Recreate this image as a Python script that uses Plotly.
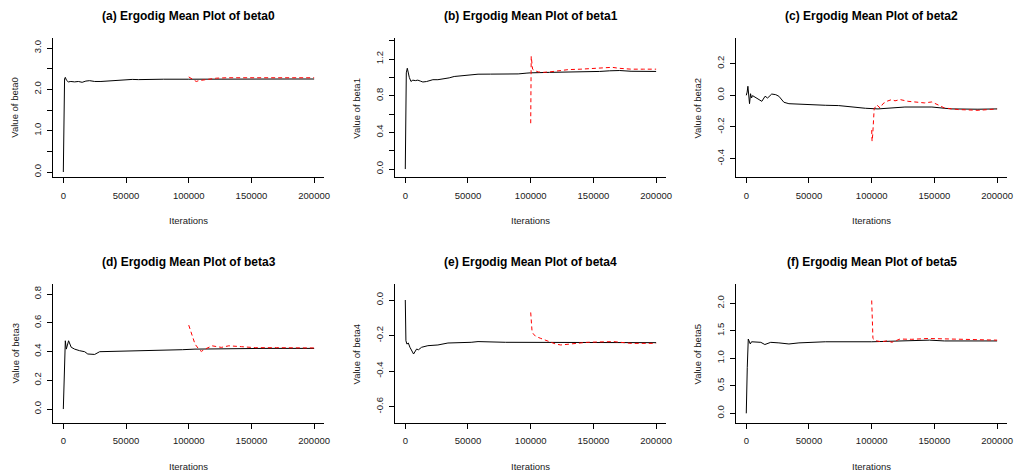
import plotly.graph_objects as go

# ---------------- data ----------------
titles = ["(a) Ergodig Mean Plot of beta0", "(b) Ergodig Mean Plot of beta1",
          "(c) Ergodig Mean Plot of beta2", "(d) Ergodig Mean Plot of beta3",
          "(e) Ergodig Mean Plot of beta4", "(f) Ergodig Mean Plot of beta5"]
ylabels = ["Value of beta0", "Value of beta1", "Value of beta2",
           "Value of beta3", "Value of beta4", "Value of beta5"]
x_label = "Iterations"
x_ticks = [0, 50000, 100000, 150000, 200000]
x_ticktext = ["0", "50000", "100000", "150000", "200000"]

# beta0
it_a = [0, 400, 700, 1000, 1600, 2500, 4000, 6000, 9000, 12000, 15000, 18000, 21000, 25000,
        30000, 35000, 40000, 45000, 50000, 55000, 60000, 70000, 80000, 100000, 120000,
        150000, 180000, 200000]
va = [0.0, 1.06, 1.08, 2.25, 2.29, 2.22, 2.18, 2.19, 2.18, 2.19, 2.17, 2.20, 2.21, 2.19,
      2.19, 2.20, 2.21, 2.23, 2.23, 2.24, 2.235, 2.245, 2.245, 2.245, 2.25, 2.25, 2.25, 2.25]
ir_a = [100000, 102000, 104000, 106000, 108000, 110000, 114000, 118000, 122000, 130000,
        140000, 150000, 160000, 170000, 180000, 190000, 200000]
vr_a = [2.30, 2.26, 2.21, 2.19, 2.21, 2.22, 2.23, 2.25, 2.27, 2.28, 2.28, 2.28, 2.285,
        2.28, 2.28, 2.28, 2.28]

# beta1
it_b = [0, 300, 800, 1600, 2400, 3200, 4500, 6000, 8000, 10000, 12000, 14000, 17000, 22000,
        26000, 31000, 35000, 39000, 45000, 50000, 58000, 68000, 80000, 90000, 97000, 100000,
        115000, 132000, 145000, 155000, 163000, 171000, 180000, 190000, 200000]
vb = [0.0, 0.50, 1.05, 1.10, 1.04, 1.00, 0.956, 0.97, 0.965, 0.97, 0.96, 0.95, 0.955, 0.975,
      0.975, 0.985, 0.995, 1.01, 1.02, 1.025, 1.035, 1.036, 1.036, 1.038, 1.047, 1.05,
      1.055, 1.058, 1.062, 1.065, 1.072, 1.075, 1.067, 1.066, 1.065]
ir_b = [100000, 100400, 101500, 103000, 106000, 110000, 115000, 120000, 130000, 140000,
        150000, 160000, 165000, 170000, 180000, 190000, 200000]
vr_b = [0.50, 1.23, 1.09, 1.075, 1.06, 1.055, 1.06, 1.07, 1.085, 1.09, 1.10, 1.105, 1.11,
        1.10, 1.09, 1.09, 1.09]

# beta2
it_c = [0, 700, 1300, 2000, 2600, 3400, 4200, 5000, 6500, 8000, 10000, 12400, 15000, 17000,
        20300, 23500, 26000, 30000, 34000, 42000, 52500, 63000, 73700, 84000, 95000, 105000,
        113000, 126500, 148000, 155600, 163500, 184700, 200000]
vc = [0.0, 0.02, 0.057, -0.02, -0.053, 0.01, -0.017, -0.002, -0.01, -0.017, -0.025, -0.038,
      -0.006, -0.017, 0.008, 0.004, -0.006, -0.044, -0.053, -0.057, -0.059, -0.063, -0.065,
      -0.074, -0.082, -0.086, -0.08, -0.074, -0.074, -0.08, -0.086, -0.088, -0.086]
ir_c = [100000, 100300, 100800, 101500, 102000, 104000, 106700, 109000, 112000, 116000,
        118600, 122600, 129000, 137000, 142000, 148000, 153000, 158000, 169000, 185000, 200000]
vr_c = [-0.22, -0.29, -0.25, -0.12, -0.085, -0.06, -0.08, -0.053, -0.038, -0.027, -0.035,
        -0.027, -0.038, -0.044, -0.048, -0.042, -0.059, -0.08, -0.09, -0.095, -0.086]

# beta3
it_d = [0, 500, 1600, 2400, 3200, 4200, 6300, 9000, 13000, 17000, 19500, 25000, 29000,
        42000, 52500, 58000, 68000, 79000, 95000, 105000, 132000, 160000, 200000]
vd = [0.0, 0.158, 0.475, 0.417, 0.45, 0.475, 0.43, 0.417, 0.406, 0.399, 0.383, 0.38, 0.399,
      0.401, 0.403, 0.408, 0.408, 0.41, 0.413, 0.417, 0.422, 0.422, 0.422]
ir_d = [100000, 103000, 105000, 108000, 110000, 113000, 118600, 126000, 132000, 142000,
        153000, 170000, 185000, 200000]
vr_d = [0.584, 0.51, 0.452, 0.417, 0.401, 0.417, 0.44, 0.429, 0.44, 0.434, 0.427, 0.427,
        0.425, 0.425]

# beta4
it_e = [0, 150, 500, 1300, 2400, 3700, 5000, 6600, 9000, 10500, 13000, 18000, 26000, 34000,
        52500, 58000, 80000, 100000, 150000, 200000]
ve = [0.0, -0.126, -0.229, -0.248, -0.242, -0.266, -0.285, -0.304, -0.276, -0.28, -0.266,
      -0.257, -0.253, -0.242, -0.238, -0.234, -0.238, -0.238, -0.24, -0.24]
ir_e = [100000, 101000, 102000, 104000, 108000, 112000, 116000, 120000, 124000, 132000,
        145000, 155000, 166000, 180000, 190000, 200000]
vr_e = [-0.07, -0.17, -0.19, -0.205, -0.216, -0.228, -0.238, -0.248, -0.253, -0.248, -0.238,
        -0.236, -0.234, -0.244, -0.244, -0.244]

# beta5
it_f = [0, 150, 800, 1600, 3200, 4200, 7700, 11600, 14800, 19500, 26000, 34000, 42000, 52500,
        63000, 100000, 132000, 146000, 158000, 200000]
vf = [0.0, 0.29, 0.836, 1.35, 1.26, 1.30, 1.29, 1.29, 1.25, 1.29, 1.28, 1.26, 1.28, 1.29,
      1.30, 1.30, 1.315, 1.33, 1.315, 1.315]
ir_f = [100000, 101000, 103000, 108000, 113000, 116000, 122600, 132000, 145000, 158000,
        174000, 190000, 200000]
vr_f = [2.05, 1.36, 1.32, 1.30, 1.32, 1.29, 1.35, 1.345, 1.36, 1.35, 1.34, 1.335, 1.33]

y_ranges = [[-0.128, 3.242], [-0.09, 1.43], [-0.518, 0.362],
            [-0.097, 0.870], [-0.692, 0.09], [-0.176, 2.35]]
y_tickvals = [[0, 0.5, 1.0, 1.5, 2.0, 2.5, 3.0],
              [0, 0.2, 0.4, 0.6, 0.8, 1.0, 1.2, 1.4],
              [-0.4, -0.2, 0.0, 0.2],
              [0.0, 0.2, 0.4, 0.6, 0.8],
              [-0.6, -0.4, -0.2, 0.0],
              [0.0, 0.5, 1.0, 1.5, 2.0]]
y_ticktext = [["0.0", "", "1.0", "", "2.0", "", "3.0"],
              ["0.0", "", "0.4", "", "0.8", "", "1.2", ""],
              ["-0.4", "-0.2", "0.0", "0.2"],
              ["0.0", "0.2", "0.4", "0.6", "0.8"],
              ["-0.6", "-0.4", "-0.2", "0.0"],
              ["0.0", "0.5", "1.0", "1.5", "2.0"]]

black_x = [it_a, it_b, it_c, it_d, it_e, it_f]
black_y = [va, vb, vc, vd, ve, vf]
red_x = [ir_a, ir_b, ir_c, ir_d, ir_e, ir_f]
red_y = [vr_a, vr_b, vr_c, vr_d, vr_e, vr_f]

# ---------------- layout ----------------
W, H = 1019, 474
col_px = [(53.6, 326.1), (397.6, 670.1), (740.6, 1013.1)]
row_px = [(38.0, 177.3), (284.0, 423.0)]
FONT = "Liberation Sans, Arial, sans-serif"
TXT = "#1a1a1a"

fig = go.Figure()
layout = dict(width=W, height=H, margin=dict(l=0, r=0, t=0, b=0),
              paper_bgcolor="white", plot_bgcolor="white", showlegend=False,
              font=dict(family=FONT, size=9.5, color=TXT))
annotations = []

for i in range(6):
    r, c = divmod(i, 3)
    n = "" if i == 0 else str(i + 1)
    x0, x1 = col_px[c]
    yt, yb = row_px[r]
    fig.add_trace(go.Scatter(x=black_x[i], y=black_y[i], mode="lines",
                             line=dict(color="black", width=1),
                             xaxis="x" + n, yaxis="y" + n, hoverinfo="skip"))
    fig.add_trace(go.Scatter(x=red_x[i], y=red_y[i], mode="lines",
                             line=dict(color="#ff0000", width=1, dash="4px,3px"),
                             xaxis="x" + n, yaxis="y" + n, hoverinfo="skip"))
    layout["xaxis" + n] = dict(
        domain=[x0 / W, x1 / W], anchor="y" + n, range=[-8000, 208000],
        showgrid=False, zeroline=False, showline=True, linecolor="black", linewidth=1,
        ticks="outside", ticklen=5, tickwidth=1, tickcolor="black",
        tickvals=x_ticks, ticktext=x_ticktext, ticklabelstandoff=4,
        tickfont=dict(family=FONT, size=9.5, color=TXT))
    layout["yaxis" + n] = dict(
        domain=[1 - yb / H, 1 - yt / H], anchor="x" + n, range=y_ranges[i],
        showgrid=False, zeroline=False, showline=True, linecolor="black", linewidth=1,
        ticks="outside", ticklen=5, tickwidth=1, tickcolor="black",
        tickvals=y_tickvals[i], ticktext=y_ticktext[i], tickangle=-90,
        ticklabelstandoff=2,
        tickfont=dict(family=FONT, size=9.5, color=TXT))
    cx = (x0 + x1) / 2
    cy = (yt + yb) / 2
    annotations.append(dict(text="<b>" + titles[i] + "</b>", x=cx / W, y=1 - (yt - 22) / H,
                            xref="paper", yref="paper", showarrow=False,
                            xanchor="center", yanchor="middle",
                            font=dict(family=FONT, size=12, color="black")))
    annotations.append(dict(text=x_label, x=cx / W, y=1 - (yb + 43) / H,
                            xref="paper", yref="paper", showarrow=False,
                            xanchor="center", yanchor="middle",
                            font=dict(family=FONT, size=9.5, color=TXT)))
    annotations.append(dict(text=ylabels[i], x=(x0 - 38.5) / W, y=1 - cy / H,
                            xref="paper", yref="paper", showarrow=False, textangle=-90,
                            xanchor="center", yanchor="middle",
                            font=dict(family=FONT, size=9.5, color=TXT)))

layout["annotations"] = annotations
fig.update_layout(**layout)
fig.write_html("out.html", config={"displayModeBar": False, "staticPlot": True},
               post_script="document.body.style.margin='0px';document.body.style.overflow='hidden';")
